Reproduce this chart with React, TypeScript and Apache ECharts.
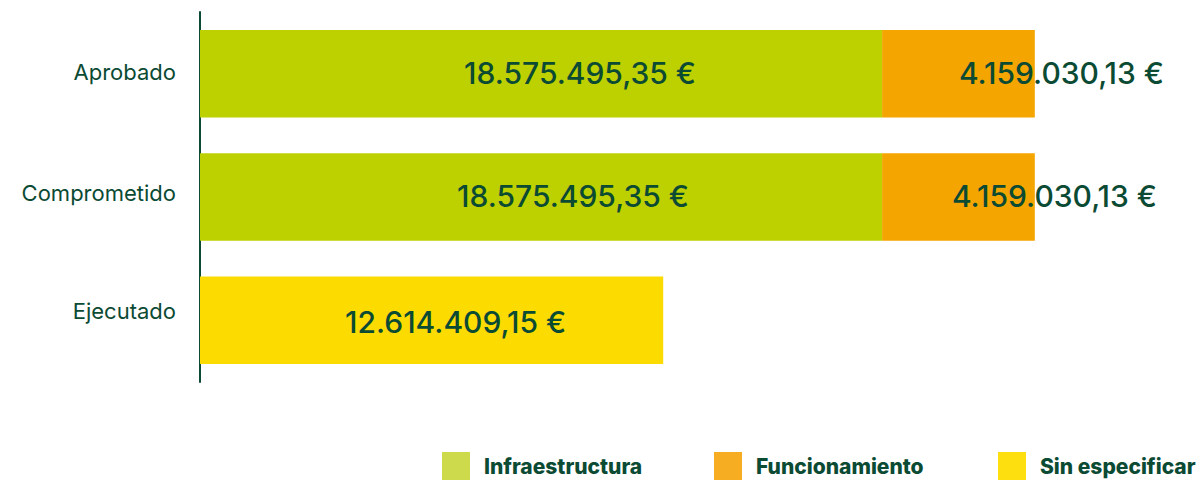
import React, { useEffect, useRef } from "react";
import * as echarts from "echarts";

const categories = ["Aprobado", "Comprometido", "Ejecutado"];
const seriesNames = ["Infraestructura", "Funcionamiento", "Sin especificar"];
const infraestructura = [18575495.35, 18575495.35, null];
const funcionamiento = [4159030.13, 4159030.13, null];
const sinEspecificar = [null, null, 12614409.15];

const barColors = ["#bdd000", "#f5a500", "#fcdc00"];
const legendColors = ["#cdda4b", "#f7ad22", "#fddf10"];
const labelOffsets = [[39, 32, 0], [103, 96, 0], [0, 0, 24]];
const labelOffsetsY = [-1, -1, 2];
const categoryPadBottom = [4, 8, 18];
const legendLefts = [437, 709, 993];
const dark = "#0b4a33";
const font = "Inter, 'Noto Sans', sans-serif";

function fmt(v: number): string {
  const [i, d] = v.toFixed(2).split(".");
  return i.replace(/\B(?=(\d{3})+(?!\d))/g, ".") + "," + d + " €";
}

export default function App() {
  const ref = useRef<HTMLDivElement>(null);
  useEffect(() => {
    const chart = echarts.init(ref.current!, undefined, { renderer: "svg" });
    const dataSets = [infraestructura, funcionamiento, sinEspecificar];
    const rich: Record<string, any> = {};
    categories.forEach((_, i) => {
      rich["c" + i] = {
        color: dark,
        fontSize: 22,
        fontFamily: font,
        padding: [0, 0, categoryPadBottom[i], 0],
      };
    });
    chart.setOption({
      animation: false,
      textStyle: { fontFamily: font },
      grid: { left: 200, right: 83, top: 12, bottom: 100, containLabel: false },
      xAxis: {
        type: "value",
        min: 0,
        max: 25000000,
        show: false,
      },
      yAxis: {
        type: "category",
        data: categories,
        inverse: true,
        axisLine: { show: true, lineStyle: { color: dark, width: 2 } },
        axisTick: { show: false },
        axisLabel: {
          color: dark,
          fontSize: 22,
          margin: 24,
          fontFamily: font,
          formatter: (val: string, idx: number) => `{c${idx}|${val}}`,
          rich,
        },
      },
      legend: seriesNames.map((n, i) => ({
        data: [{ name: n, itemStyle: { color: legendColors[i] } }],
        left: legendLefts[i],
        top: 447,
        itemWidth: 28,
        itemHeight: 28,
        itemGap: 14,
        selectedMode: false,
        icon: "rect",
        textStyle: { color: dark, fontSize: 21, fontWeight: 800, fontFamily: font, padding: [0, 0, 0, 9] },
      })),
      series: seriesNames.map((n, si) => ({
        name: n,
        type: "bar",
        stack: "total",
        barCategoryGap: "29%",
        itemStyle: { color: barColors[si] },
        data: dataSets[si].map((v, ci) =>
          v == null
            ? null
            : {
                value: v,
                label: {
                  show: true,
                  position: "inside",
                  offset: [labelOffsets[si][ci], labelOffsetsY[ci]],
                  formatter: () => fmt(v),
                  color: dark,
                  fontSize: 30,
                  fontWeight: 500,
                  fontFamily: font,
                },
              }
        ),
      })),
    });
    return () => chart.dispose();
  }, []);
  return <div ref={ref} style={{ width: 1201, height: 482, position: "absolute", left: 0, top: 0 }} />;
}
